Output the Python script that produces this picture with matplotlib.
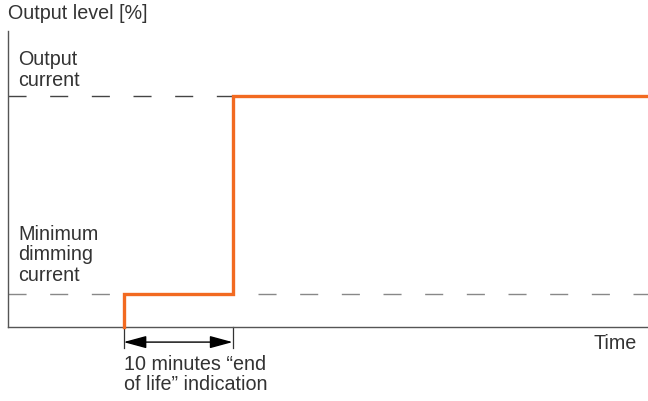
import matplotlib
matplotlib.use("Agg")
import matplotlib.pyplot as plt
from matplotlib.transforms import blended_transform_factory

# Data (time in minutes, level in %)
t_start = 10.6          # end-of-life indication begins
t_end = 20.6            # after 10 minutes
t_max = 58.7
level_output = 100
level_min = 14.3
y_top = 128
step_t = [t_start, t_start, t_end, t_end, t_max]
step_y = [0, level_min, level_min, level_output, level_output]

plt.rcParams['font.family'] = ['Liberation Sans', 'DejaVu Sans']
txt = '#333333'
fs = 14.2

fig = plt.figure(figsize=(6.48, 4.01), dpi=100)
ax = fig.add_axes([8/648, 74/401, 640/648, 296/401])
ax.set_xlim(0, t_max)
ax.set_ylim(0, y_top)
for s in ['top', 'right']:
    ax.spines[s].set_visible(False)
for s in ['left', 'bottom']:
    ax.spines[s].set_color('#555555')
    ax.spines[s].set_linewidth(1.0)
ax.set_xticks([]); ax.set_yticks([])

ax.plot([0, t_max], [level_output]*2, color='#444444', lw=1.0, ls=(0, (13, 17)))
ax.plot([0, t_max], [level_min]*2, color='#888888', lw=1.0, ls=(0, (13, 17)))
ax.plot(step_t, step_y, color='#F26A21', lw=2.4, solid_joinstyle='miter', clip_on=False, zorder=3)

tr = blended_transform_factory(ax.transData, ax.transAxes)
for t in [t_start, t_end]:
    ax.plot([t, t], [0, -0.072], color='#333333', lw=0.9, transform=tr, clip_on=False)
ax.annotate('', xy=(t_start, -0.051), xytext=(t_end, -0.051), xycoords=tr, textcoords=tr,
            arrowprops=dict(arrowstyle='<|-|>,head_length=1.4,head_width=0.38', color='black', lw=1.0,
                            shrinkA=0, shrinkB=0))

fig.text(8/648, 1 - 4/401, 'Output level [%]', ha='left', va='top', fontsize=fs, color=txt, linespacing=1.1)
fig.text(18/648, 1 - 50/401, 'Output\ncurrent', ha='left', va='top', fontsize=fs, color=txt, linespacing=1.1)
fig.text(18/648, 1 - 225/401, 'Minimum\ndimming\ncurrent', ha='left', va='top', fontsize=fs, color=txt, linespacing=1.1)
fig.text(637/648, 1 - 334/401, 'Time', ha='right', va='top', fontsize=fs, color=txt)
fig.text(124/648, 1 - 355/401, '10 minutes \u201cend\nof life\u201d indication', ha='left', va='top',
         fontsize=fs, color=txt, linespacing=1.1)

fig.savefig('out.png', dpi=100)
